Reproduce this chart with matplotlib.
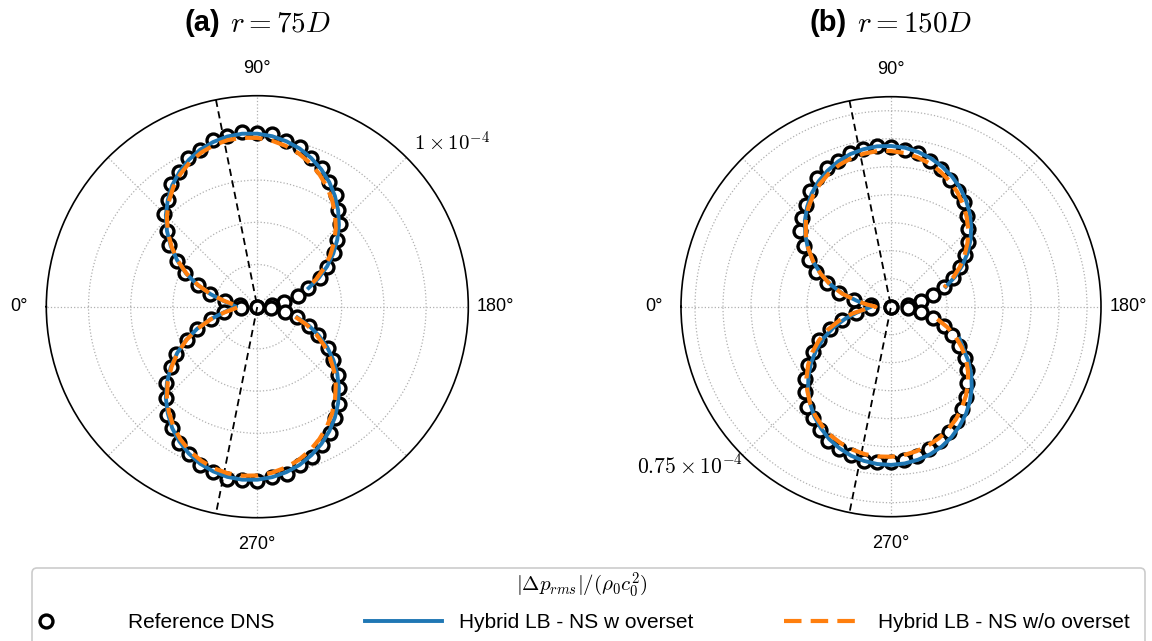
import numpy as np
import matplotlib
matplotlib.use('Agg')
import matplotlib.pyplot as plt
from matplotlib.lines import Line2D
from matplotlib.legend_handler import HandlerLine2D
from matplotlib.offsetbox import TextArea, HPacker, AnnotationBbox
from matplotlib.patches import FancyBboxPatch
from matplotlib.transforms import IdentityTransform

plt.rcParams['font.family'] = ['Liberation Sans', 'DejaVu Sans']
plt.rcParams['mathtext.fontset'] = 'cm'

# Directivity values are in units of 1e-4 (|dp_rms| / (rho0 c0^2))

# DNS samples: every 5 degrees from 0 to 355
dns_theta = np.arange(0, 360, 5)
# hybrid solutions: from the lower lobe (195 deg) round through 0 deg to 160 deg
line_theta = np.arange(195, 525, 5)

# (a) r = 75D
dns_a = [0.0, 0.080, 0.155, 0.232, 0.300, 0.378, 0.437, 0.508, 0.558, 0.622,
         0.660, 0.712, 0.738, 0.778, 0.792, 0.818, 0.820, 0.832, 0.822,
         0.820, 0.796, 0.785, 0.750, 0.727, 0.682, 0.649, 0.596, 0.555, 0.494,
         0.446, 0.380, 0.327, 0.258, 0.200, 0.130, 0.070, 0.0,
         0.064, 0.135, 0.194, 0.263, 0.320, 0.387, 0.440, 0.501, 0.548, 0.603,
         0.642, 0.690, 0.722, 0.757, 0.778, 0.805, 0.812, 0.826,
         0.823, 0.828, 0.810, 0.800, 0.770, 0.746, 0.702, 0.668, 0.612, 0.566,
         0.500, 0.445, 0.370, 0.306, 0.227, 0.158, 0.076]
overset_a = [0.196, 0.259, 0.321, 0.382, 0.440, 0.495, 0.547, 0.596, 0.641, 0.682,
             0.718, 0.749, 0.776, 0.796, 0.811, 0.820, 0.823, 0.819, 0.808, 0.792,
             0.768, 0.738, 0.703, 0.660, 0.613, 0.559, 0.501, 0.438, 0.372, 0.302,
             0.229, 0.165, 0.125,
             0.100, 0.125, 0.165, 0.229, 0.302, 0.372, 0.438, 0.501, 0.559, 0.613,
             0.660, 0.703, 0.738, 0.768, 0.792, 0.808, 0.819, 0.823, 0.820, 0.811,
             0.796, 0.776, 0.749, 0.718, 0.682, 0.641, 0.596, 0.547, 0.495, 0.440,
             0.382, 0.321, 0.259]
no_overset_a = [0.187, 0.248, 0.307, 0.365, 0.421, 0.475, 0.526, 0.573, 0.618, 0.658,
                0.694, 0.726, 0.753, 0.774, 0.790, 0.800, 0.804, 0.802, 0.793, 0.777,
                0.756, 0.727, 0.693, 0.652, 0.606, 0.554, 0.496, 0.435, 0.369, 0.299,
                0.227, 0.160, 0.110,
                0.085, 0.110, 0.160, 0.227, 0.299, 0.369, 0.435, 0.496, 0.554, 0.606,
                0.652, 0.693, 0.727, 0.756, 0.777, 0.793, 0.802, 0.804, 0.800, 0.790,
                0.774, 0.753, 0.726, 0.694, 0.658, 0.618, 0.573, 0.526, 0.475, 0.421,
                0.365, 0.307, 0.248]

# (b) r = 150D
dns_b = [0.0, 0.073, 0.134, 0.192, 0.243, 0.294, 0.337, 0.381, 0.422, 0.450,
         0.474, 0.506, 0.530, 0.545, 0.552, 0.567, 0.572, 0.576, 0.570,
         0.563, 0.556, 0.539, 0.524, 0.501, 0.477, 0.455, 0.422, 0.391, 0.361,
         0.321, 0.283, 0.246, 0.201, 0.157, 0.110, 0.060, 0.0,
         0.060, 0.110, 0.156, 0.203, 0.241, 0.281, 0.322, 0.353, 0.386, 0.419,
         0.444, 0.470, 0.494, 0.511, 0.527, 0.542, 0.549, 0.555,
         0.557, 0.558, 0.549, 0.540, 0.529, 0.509, 0.487, 0.466, 0.432, 0.403,
         0.363, 0.323, 0.282, 0.232, 0.182, 0.128, 0.070]
overset_b = [np.nan, np.nan, 0.270, 0.298, 0.337, 0.374, 0.408, 0.439, 0.467, 0.491,
             0.513, 0.531, 0.545, 0.555, 0.562, 0.565, 0.564, 0.559, 0.551, 0.538,
             0.522, 0.501, 0.478, 0.450, 0.419, 0.385, 0.348, 0.308, 0.265, 0.219,
             0.171, 0.125, 0.090,
             0.070, 0.090, 0.125, 0.178, 0.229, 0.276, 0.321, 0.362, 0.400, 0.435,
             0.466, 0.494, 0.517, 0.536, 0.552, 0.564, 0.571, 0.575, 0.574, 0.570,
             0.561, 0.549, 0.533, 0.514, 0.492, 0.466, 0.437, 0.405, 0.371, 0.334,
             0.294, 0.252, 0.208]
no_overset_b = [0.171, 0.214, 0.255, 0.292, 0.327, 0.359, 0.389, 0.416, 0.441, 0.464,
                0.483, 0.500, 0.513, 0.524, 0.532, 0.536, 0.537, 0.535, 0.529, 0.520,
                0.508, 0.492, 0.473, 0.450, 0.423, 0.394, 0.361, 0.324, 0.284, 0.240,
                0.192, 0.140, 0.090,
                0.055, 0.085, 0.127, 0.181, 0.231, 0.277, 0.320, 0.360, 0.397, 0.430,
                0.460, 0.485, 0.507, 0.525, 0.539, 0.549, 0.555, 0.558, 0.556, 0.551,
                0.542, 0.530, 0.514, 0.495, 0.473, 0.448, 0.420, 0.390, 0.357, 0.321,
                0.284, 0.244, 0.202]

# black dashed guide rays (deg)
guide_a = [78.7, 281.3]
guide_b = [78.6, 281.4]

titles = ['(a)', '(b)']
title_math = [r'$r = 75D$', r'$r = 150D$']
rmax = [1.0, 0.75]
rgrid = [[0.2, 0.4, 0.6, 0.8], [0.1, 0.2, 0.3, 0.4, 0.5, 0.6, 0.7]]
rlabel = [r'$1 \times 10^{-4}$', r'$0.75 \times 10^{-4}$']

blue = '#1f77b4'
orange = '#ff7f0e'

fig = plt.figure(figsize=(11.52, 6.41), dpi=100)
W, H = 1152, 641

# axes placed by centre / radius in pixels
centres = [(257.3, 306.7, 211), (891.0, 306.7, 210)]
data = [(dns_a, overset_a, no_overset_a, guide_a),
        (dns_b, overset_b, no_overset_b, guide_b)]

for k, ((cx, cy, rad), (dns, ov, nov, guide)) in enumerate(zip(centres, data)):
    ax = fig.add_axes([(cx - rad) / W, 1 - (cy + rad) / H, 2 * rad / W, 2 * rad / H],
                      projection='polar')
    ax.set_theta_zero_location('W')
    ax.set_theta_direction(-1)
    ax.set_rlim(0, rmax[k])
    ax.set_rgrids(rgrid[k], labels=[''] * len(rgrid[k]))
    ax.set_thetagrids(range(0, 360, 45),
                      labels=['0°', '', '90°', '', '180°', '', '270°', ''],
                      fontsize=13)
    ax.tick_params(axis='x', pad=9)
    ax.grid(True, color='#b0b0b0', linestyle=':', linewidth=0.9)
    ax.spines['polar'].set_linewidth(1.2)

    ax.plot(np.deg2rad(dns_theta), dns, 'o', ms=9.3, mfc='white', mec='black',
            mew=2.4, zorder=3)
    ax.plot(np.deg2rad([guide[0], guide[0], guide[1]]), [rmax[k], 0, rmax[k]],
            color='black', lw=1.3, dashes=(4, 2.5), zorder=4)
    ax.plot(np.deg2rad(line_theta), ov, color=blue, lw=2.8, zorder=5)
    ax.plot(np.deg2rad(line_theta), nov, color=orange, lw=3.0, dashes=(4.2, 2.2),
            zorder=6)

    # panel title: bold sans label followed by the math part
    lab = TextArea(titles[k], textprops=dict(fontsize=21, fontweight='bold'))
    mth = TextArea(title_math[k], textprops=dict(fontsize=21))
    box = HPacker(children=[lab, mth], sep=7, align='baseline', pad=0)
    fig.add_artist(AnnotationBbox(box, (cx / W, 1 - 23 / H), xycoords='figure fraction',
                                  frameon=False, box_alignment=(0.5, 0.5)))

fig.text(452 / W, 1 - 143 / H, rlabel[0], ha='center', va='center', fontsize=15)
fig.text(690 / W, 1 - 467 / H, rlabel[1], ha='center', va='center', fontsize=15.5)


# DNS marker drawn near the left end of the legend handle
# (with one point the handler puts the marker in the middle of xdata)
class LeftMarker(HandlerLine2D):
    def get_xdata(self, legend, xdescent, ydescent, width, height, fontsize):
        return [-xdescent, -xdescent + 0.3 * width], [-xdescent + 0.15 * width]


# legend frame runs off the bottom of the figure
fig.add_artist(FancyBboxPatch((32, -25), 1113, 98, boxstyle='round,pad=0,rounding_size=5',
                              transform=IdentityTransform(), facecolor='white',
                              edgecolor='#cccccc', linewidth=1.2))

h_dns = Line2D([], [], ls='none', marker='o', ms=9.3, mfc='white', mec='black', mew=2.4)
h_ov = Line2D([], [], color=blue, lw=2.8)
h_nov = Line2D([], [], color=orange, lw=3.0, dashes=(4.2, 2.2))
fig.legend([h_dns, h_ov, h_nov],
           ['Reference DNS', 'Hybrid LB - NS w overset', 'Hybrid LB - NS w/o overset'],
           handler_map={h_dns: LeftMarker()},
           loc='upper left', bbox_to_anchor=(32 / W, 1 - 568 / H, 1100 / W, 0),
           mode='expand', ncol=3, borderaxespad=0, borderpad=0.1, fontsize=15,
           title=r'$|\Delta p_{rms}|/(\rho_0 c_0^2)$', title_fontsize=15,
           handlelength=3.7, handletextpad=0.8, labelspacing=0.7, frameon=False)

fig.savefig('out.png', dpi=100)
